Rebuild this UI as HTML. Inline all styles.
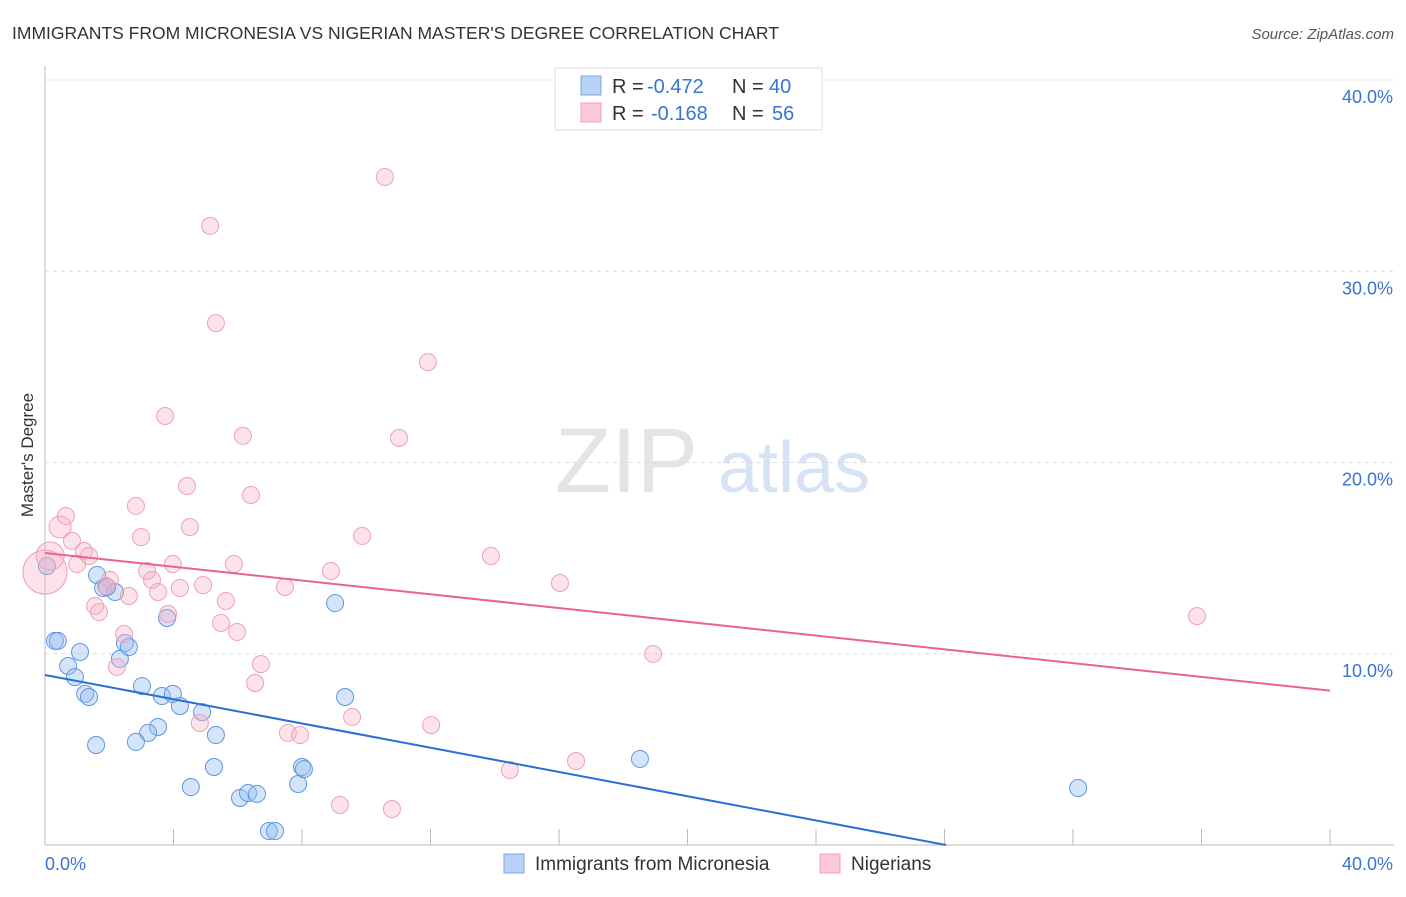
<!DOCTYPE html>
<html><head><meta charset="utf-8"><style>
body{margin:0;background:#fff;font-family:"Liberation Sans",sans-serif;}
svg text{font-family:"Liberation Sans",sans-serif;}
</style></head><body>
<svg id="c" width="1406" height="892">
<text x="12" y="39" font-size="17.5" fill="#333">IMMIGRANTS FROM MICRONESIA VS NIGERIAN MASTER'S DEGREE CORRELATION CHART</text>
<text x="1394" y="39" font-size="15" fill="#555" font-style="italic" text-anchor="end">Source: ZipAtlas.com</text>
<text x="555" y="492" font-size="92" fill="#e4e4e4" font-family="Liberation Serif">ZIP</text>
<text x="718" y="492" font-size="72" fill="#d6e3f5">atlas</text>
<text transform="translate(33,455) rotate(-90)" font-size="17" fill="#333" text-anchor="middle">Master's Degree</text>
<g id="grid"></g><g id="pts"></g><g id="lines"></g>
<g>
<rect x="555" y="68" width="267" height="62" fill="#fff" stroke="#ddd"/>
<rect x="581" y="76" width="20" height="19" fill="#b8d2f5" stroke="#7aa7e6"/>
<rect x="581" y="103" width="20" height="19" fill="#fbc8d6" stroke="#f0a0b8"/>
<text x="612" y="93" font-size="20" fill="#333">R =</text>
<text x="647" y="93" font-size="20" fill="#3b73d1">-0.472</text>
<text x="732" y="93" font-size="20" fill="#333">N =</text>
<text x="769" y="93" font-size="20" fill="#3b73d1">40</text>
<text x="612" y="120" font-size="20" fill="#333">R =</text>
<text x="651" y="120" font-size="20" fill="#3b73d1">-0.168</text>
<text x="732" y="120" font-size="20" fill="#333">N =</text>
<text x="772" y="120" font-size="20" fill="#3b73d1">56</text>
</g>
<g>
<rect x="504" y="854" width="20" height="19" fill="#b8d2f5" stroke="#7aa7e6"/>
<text x="535" y="870" font-size="19" fill="#333">Immigrants from Micronesia</text>
<rect x="820" y="854" width="20" height="19" fill="#fbc8d6" stroke="#f0a0b8"/>
<text x="851" y="870" font-size="19" fill="#333">Nigerians</text>
</g>
</svg>
<script>
const xTicks=[0,4,8,12,16,20,24,28,32,36,40];
const yTicks=[10,20,30,40];
const blueX=[0.06,0.31,0.4,1.09,1.62,1.81,2.18,1.93,2.33,2.49,2.61,0.72,0.93,1.25,1.37,3.02,3.64,3.98,4.2,4.89,5.32,3.52,3.21,2.83,1.59,9.03,9.34,5.26,4.54,6.07,6.32,6.6,7.88,8.0,8.06,6.97,7.16,18.52,32.16,3.8];
const blueY=[14.59,10.67,10.67,10.09,14.12,13.44,13.23,13.49,9.73,10.56,10.35,9.36,8.78,7.9,7.74,8.31,7.79,7.9,7.27,6.95,5.75,6.17,5.86,5.39,5.23,12.65,7.74,4.08,3.03,2.46,2.72,2.67,3.19,4.08,3.97,0.73,0.73,4.5,2.98,11.87];
const pinkX=[0,0.16,0.47,0.65,0.84,1.21,1.0,1.37,1.56,1.68,2.02,1.9,2.46,2.24,2.61,2.83,2.99,3.18,3.33,3.52,3.83,3.98,4.2,4.51,4.42,3.74,5.14,5.32,4.92,5.63,5.48,5.88,5.98,6.16,6.41,6.72,6.54,7.47,7.56,7.94,8.9,9.18,9.56,9.87,10.58,11.02,11.92,10.8,12.02,13.88,14.47,16.03,16.53,18.93,35.86,4.82];
const pinkY=[14.27,15.11,16.63,17.2,15.9,15.37,14.69,15.11,12.5,12.18,13.86,13.54,11.03,9.31,13.02,17.73,16.1,14.33,13.86,13.23,12.08,14.69,13.44,16.63,18.77,22.43,32.37,27.29,13.59,12.76,11.61,14.69,11.14,21.39,18.3,9.46,8.47,13.49,5.86,5.75,14.33,2.09,6.69,16.16,34.93,21.28,25.25,1.88,6.27,15.11,3.92,13.7,4.39,9.99,11.97,6.38];
const pinkR={0:22,1:14,2:11};
const blueTrend=[8.89,-0.317];
const pinkTrend=[15.27,-0.18];
const X=v=>45+v*32.125, Y=v=>845-v*19.125;
const NS="http://www.w3.org/2000/svg";
function mk(t,a,p){const e=document.createElementNS(NS,t);for(const k in a)e.setAttribute(k,a[k]);p.appendChild(e);return e;}
const g=document.getElementById('grid');
const ax=mk('line',{x1:45,y1:66,x2:45,y2:845,stroke:'#bbb'},g);


const bx=mk('line',{x1:45,y1:845,x2:1394,y2:845,stroke:'#bbb'},g);


yTicks.forEach(t=>{
 const l=mk('line',{x1:45,x2:1394,y1:Y(t),y2:Y(t),stroke:'#ddd','stroke-dasharray':'4,4'},g);
 
 
 const tx=mk('text',{x:1393,y:Y(t)+23,'font-size':18,fill:'#3b73d1','text-anchor':'end'},g);
 tx.textContent=t.toFixed(1)+'%';
 
 
});
xTicks.forEach(t=>{
 const l=mk('line',{x1:X(t),x2:X(t),y1:829,y2:845,stroke:'#bbb'},g);
 
 
});
[[0,'0.0%','start',45],[40,'40.0%','end',1393]].forEach(a=>{
 const tx=mk('text',{x:a[3],y:870,'font-size':18,fill:'#3b73d1','text-anchor':a[2]},g);
 tx.textContent=a[1];
 
 
});
const p=document.getElementById('pts');
blueX.forEach((v,i)=>{
 const c=mk('circle',{cx:X(v),cy:Y(blueY[i]),r:8.5,fill:'rgba(150,190,240,0.4)',stroke:'#5f96e0','stroke-width':1},p);
 
 
});
pinkX.forEach((v,i)=>{
 const c=mk('circle',{cx:X(v),cy:Y(pinkY[i]),r:pinkR[i]||8.5,fill:'rgba(246,175,195,0.35)',stroke:'#eea0b6','stroke-width':1},p);
 
 
});
const L=document.getElementById('lines');
const bEnd=-blueTrend[0]/blueTrend[1];
const bl=mk('line',{x1:X(0),y1:Y(blueTrend[0]),x2:X(bEnd),y2:Y(0),stroke:'#2a6fd6','stroke-width':2},L);


const pl=mk('line',{x1:X(0),y1:Y(pinkTrend[0]),x2:X(40),y2:Y(pinkTrend[0]+pinkTrend[1]*40),stroke:'#e8648e','stroke-width':2},L);


</script>
</body></html>
